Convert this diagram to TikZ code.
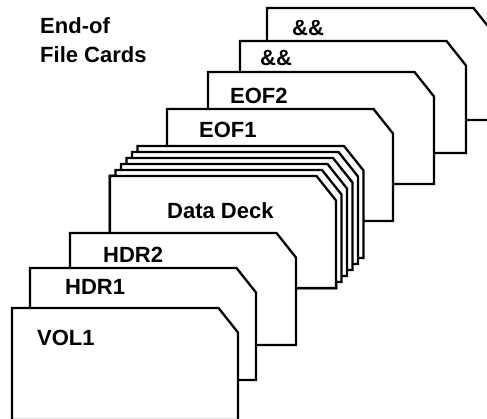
\documentclass[tikz,border=0pt]{standalone}
\usepackage{fontspec}
\setmainfont{Liberation Sans}

\tikzset{
	card/.style={draw,fill=white,line width=2.3pt,line join=miter},
	cardlabel/.style={anchor=base west,inner sep=0pt,font=\bfseries\fontsize{22}{29}\selectfont}
}
% one card, from its top left corner
\newcommand{\punchcard}[2]{%
	\draw[card] (#1,#2+112) -- (#1,#2) -- (#1+206.5,#2) -- (#1+226,#2+24.5) -- (#1+226,#2+112) -- cycle;}

\begin{document}
\begin{tikzpicture}[x=1pt,y=-1pt]
	\useasboundingbox (0,0) rectangle (487,418);
	\clip (0,0) rectangle (487,418);
	\node[cardlabel,align=left] (title) at (40,62) {End-of\\File Cards};
	\punchcard{267}{8}
	\node[cardlabel] (amp2) at (292,35) {\&\&};
	\punchcard{240}{41}
	\node[cardlabel] (amp1) at (260,65) {\&\&};
	\punchcard{208}{72}
	\node[cardlabel] (eof2) at (230,103) {EOF2};
	\punchcard{167}{109}
	\node[cardlabel] (eof1) at (199,137) {EOF1};
	\foreach \k in {5,4,...,1}
		\punchcard{110+5.5*\k}{176-6*\k}
	\punchcard{110}{176}
	\node[cardlabel] (data) at (167,218) {Data Deck};
	\punchcard{70}{233}
	\node[cardlabel] (hdr2) at (103,262) {HDR2};
	\punchcard{30}{268}
	\node[cardlabel] (hdr1) at (65,294) {HDR1};
	\punchcard{12}{308}
	\node[cardlabel] (vol1) at (37,345) {VOL1};
\end{tikzpicture}
\end{document}
